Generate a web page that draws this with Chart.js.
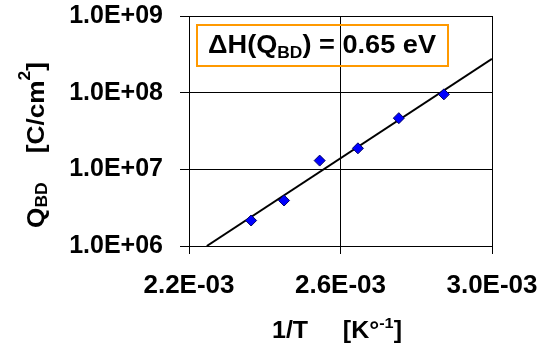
<!DOCTYPE html>
<html>
<head>
<meta charset="utf-8">
<script src="https://cdn.jsdelivr.net/npm/chart.js@4.4.1/dist/chart.umd.min.js"></script>
<style>
  html, body { margin: 0; padding: 0; background: #fff; }
  #wrap { position: relative; width: 549px; height: 358px; }
</style>
</head>
<body>
<div id="wrap"><canvas id="c"></canvas></div>
<script>
const FONT = '"Liberation Sans", Arial, sans-serif';

// breakdown charge vs inverse stress temperature
const invT = [2.364e-3, 2.451e-3, 2.545e-3, 2.646e-3, 2.754e-3, 2.873e-3];
const qbd = [2.15e6, 3.92e6, 1.30e7, 1.88e7, 4.65e7, 9.5e7];

// Arrhenius fit, end points
const fitInvT = [2.247e-3, 3.0e-3];
const fitQbd = [1.0e6, 2.77e8];

const xTicks = [2.2e-3, 2.6e-3, 3.0e-3];
const yTicks = [1e6, 1e7, 1e8, 1e9];
const activation = '0.65 eV';

// 1.0E+09 / 2.6E-03 style
function sci(v) {
  const [m, e] = Number(v).toExponential(1).split('e');
  const n = Math.abs(parseInt(e, 10));
  return `${m}E${e[0] === '-' ? '-' : '+'}${String(n).padStart(2, '0')}`;
}

// runs of [text, kind], kind = 'n' | 'sub' | 'sup'; (x, y) is the baseline centre
function richText(ctx, runs, { x, y, width, rotate = false, size = 24, small = 16, subDy = 4, supDy = -9 }) {
  const fontFor = (k) => `bold ${k === 'n' ? size : small}px ${FONT}`;
  let natural = 0;
  for (const [t, k] of runs) { ctx.font = fontFor(k); natural += ctx.measureText(t).width; }
  const sx = width ? width / natural : 1;
  ctx.save();
  ctx.translate(x, y);
  if (rotate) ctx.rotate(-Math.PI / 2);
  ctx.scale(sx, 1);
  ctx.fillStyle = '#000'; ctx.textAlign = 'left'; ctx.textBaseline = 'alphabetic';
  let cx = -natural / 2;
  for (const [t, k] of runs) {
    ctx.font = fontFor(k);
    ctx.fillText(t, cx, k === 'sub' ? subDy : k === 'sup' ? supDy : 0);
    cx += ctx.measureText(t).width;
  }
  ctx.restore();
}

const decorations = {
  id: 'decorations',
  afterDraw(chart) {
    const { ctx, chartArea: a } = chart;
    // activation energy box
    ctx.save();
    ctx.strokeStyle = '#FF9900'; ctx.lineWidth = 2;
    ctx.strokeRect(a.left + 8, a.top + 9, 251, 41);
    ctx.restore();
    richText(ctx, [['\u0394H(Q', 'n'], ['BD', 'sub'], [') = ' + activation, 'n']],
      { x: a.left + 133, y: a.top + 37, width: 228, size: 25, small: 16, subDy: 5 });
    // axis titles
    richText(ctx, [['1/T     [K\u00B0', 'n'], ['-1', 'sup'], [']', 'n']],
      { x: 337, y: 338, width: 130, size: 23, small: 15, supDy: -10 });
    richText(ctx, [['Q', 'n'], ['BD', 'sub'], ['    [C/cm', 'n'], ['2', 'sup'], [']', 'n']],
      { x: 44, y: 145, width: 166, rotate: true, size: 24, small: 16, subDy: 3, supDy: -14 });
  },
};

new Chart(document.getElementById('c'), {
  type: 'scatter',
  data: {
    datasets: [
      {
        data: invT.map((x, i) => ({ x, y: qbd[i] })),
        pointStyle: 'rectRot', pointRadius: 5.5, pointHoverRadius: 5.5,
        backgroundColor: '#0000FF', borderColor: '#000066', borderWidth: 1,
      },
      {
        data: fitInvT.map((x, i) => ({ x, y: fitQbd[i] })),
        showLine: true, pointRadius: 0, borderColor: '#000', borderWidth: 2,
      },
    ],
  },
  options: {
    responsive: true, maintainAspectRatio: false, animation: false,
    layout: { padding: { top: 16, right: 57, left: 0, bottom: 0 } },
    plugins: { legend: { display: false }, tooltip: { enabled: false } },
    scales: {
      x: {
        type: 'linear', min: xTicks[0], max: xTicks[xTicks.length - 1],
        afterBuildTicks: (s) => { s.ticks = xTicks.map((value) => ({ value })); },
        afterFit: (s) => { s.height = 112; s.paddingLeft = 0; s.paddingRight = 0; },
        grid: { color: '#000', lineWidth: 1, tickLength: 8, drawTicks: true },
        border: { color: '#000', width: 1 },
        ticks: { padding: 16, maxRotation: 0, color: '#000', font: { family: FONT, size: 26, weight: 'bold' }, callback: (v) => sci(v) },
      },
      y: {
        type: 'logarithmic', min: yTicks[0], max: yTicks[yTicks.length - 1],
        afterBuildTicks: (s) => { s.ticks = yTicks.map((value) => ({ value })); },
        afterFit: (s) => { s.width = 189; s.paddingTop = 0; s.paddingBottom = 0; },
        grid: { color: '#000', lineWidth: 1, tickLength: 9, drawTicks: true },
        border: { color: '#000', width: 1 },
        ticks: { padding: 17, color: '#000', font: { family: FONT, size: 25, weight: 'bold' }, callback: (v) => sci(v) },
      },
    },
  },
  plugins: [decorations],
});
</script>
</body>
</html>
